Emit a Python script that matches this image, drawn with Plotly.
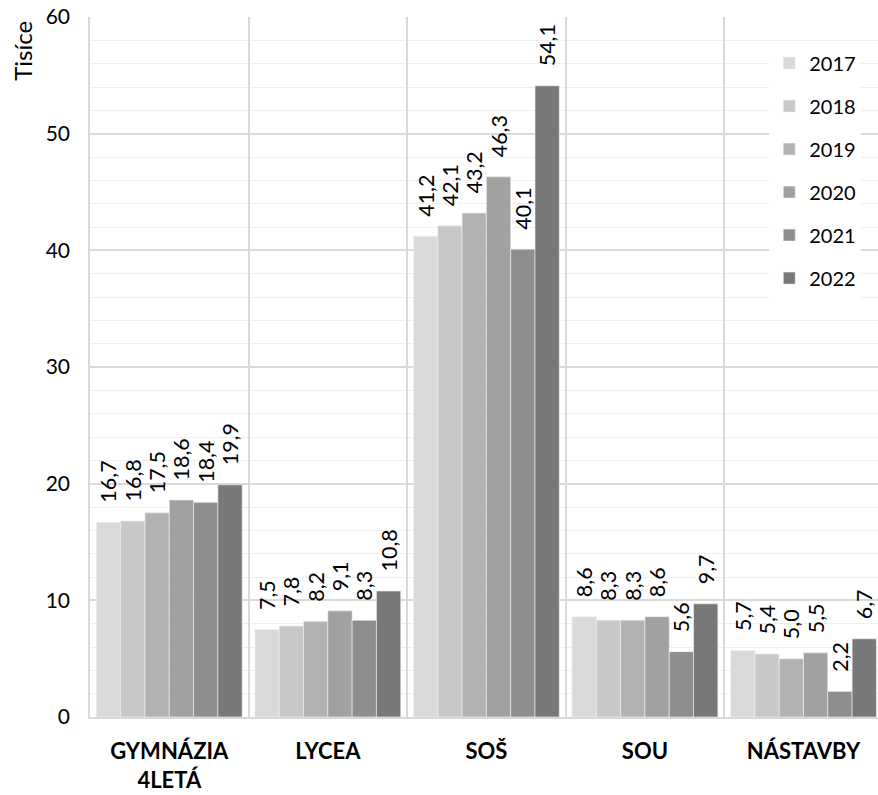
import plotly.graph_objects as go

categories = ["GYMNÁZIA<br>4LETÁ", "LYCEA", "SOŠ", "SOU", "NÁSTAVBY"]
years = ["2017", "2018", "2019", "2020", "2021", "2022"]
values = {
    "2017": [16.7, 7.5, 41.2, 8.6, 5.7],
    "2018": [16.8, 7.8, 42.1, 8.3, 5.4],
    "2019": [17.5, 8.2, 43.2, 8.3, 5.0],
    "2020": [18.6, 9.1, 46.3, 8.6, 5.5],
    "2021": [18.4, 8.3, 40.1, 5.6, 2.2],
    "2022": [19.9, 10.8, 54.1, 9.7, 6.7],
}
colors = ["#d9d9d9", "#c8c8c8", "#b2b2b2", "#a1a1a1", "#8e8e8e", "#787878"]

FONT = "Lato"
PAD = "\u00a0" * 3  # lifts the rotated labels a bit above the bar tops

fig = go.Figure()
for y, c in zip(years, colors):
    vals = values[y]
    fig.add_trace(go.Bar(
        x=categories, y=vals, name=y, legendgroup=y,
        marker=dict(color=c, line=dict(color="#f2f2f2", width=0.6)),
        text=[PAD + f"{v:.1f}".replace(".", ",") for v in vals],
        textposition="outside", textangle=-90, constraintext="none",
        textfont=dict(size=21.5, color="#000000", family=FONT),
        cliponaxis=False,
    ))

fig.update_layout(
    width=878, height=795,
    margin=dict(l=90, r=0, t=17, b=78),
    paper_bgcolor="white", plot_bgcolor="white",
    barmode="group", bargap=0.08, bargroupgap=0,
    font=dict(family=FONT, size=20, color="#000000"),
    legend=dict(
        x=0.862, y=0.962, xanchor="left", yanchor="top",
        bgcolor="white", font=dict(size=20, family=FONT),
        traceorder="grouped", tracegroupgap=14,
        itemwidth=30,
    ),
    annotations=[dict(
        text="Tisíce", xref="paper", yref="paper", x=-0.086, y=0.952,
        xanchor="center", yanchor="middle", textangle=-90, showarrow=False,
        font=dict(size=24, family=FONT, color="#000000"),
    )],
)
fig.update_xaxes(
    range=[-0.5, 4.47], tickson="boundaries", showgrid=True,
    gridcolor="#d9d9d9", gridwidth=1.5, ticks="", automargin=False,
    showline=True, linecolor="#d9d9d9", linewidth=1.5,
    ticklabelstandoff=14,
    tickfont=dict(size=22, family=FONT, color="#000000", weight="bold"),
)
fig.update_yaxes(
    range=[0, 60], dtick=10, showgrid=True, gridcolor="#d9d9d9", gridwidth=1.5,
    minor=dict(dtick=2, showgrid=True, gridcolor="#efefef", gridwidth=1),
    showline=True, linecolor="#d9d9d9", linewidth=1.5, zeroline=False,
    automargin=False, ticklabelstandoff=14, ticklabeloverflow="allow",
    tickfont=dict(size=21, family=FONT, color="#000000"), ticks="",
)

fig.write_html(
    "out.html",
    config={"displayModeBar": False},
    post_script="document.body.style.margin='0';",
)
